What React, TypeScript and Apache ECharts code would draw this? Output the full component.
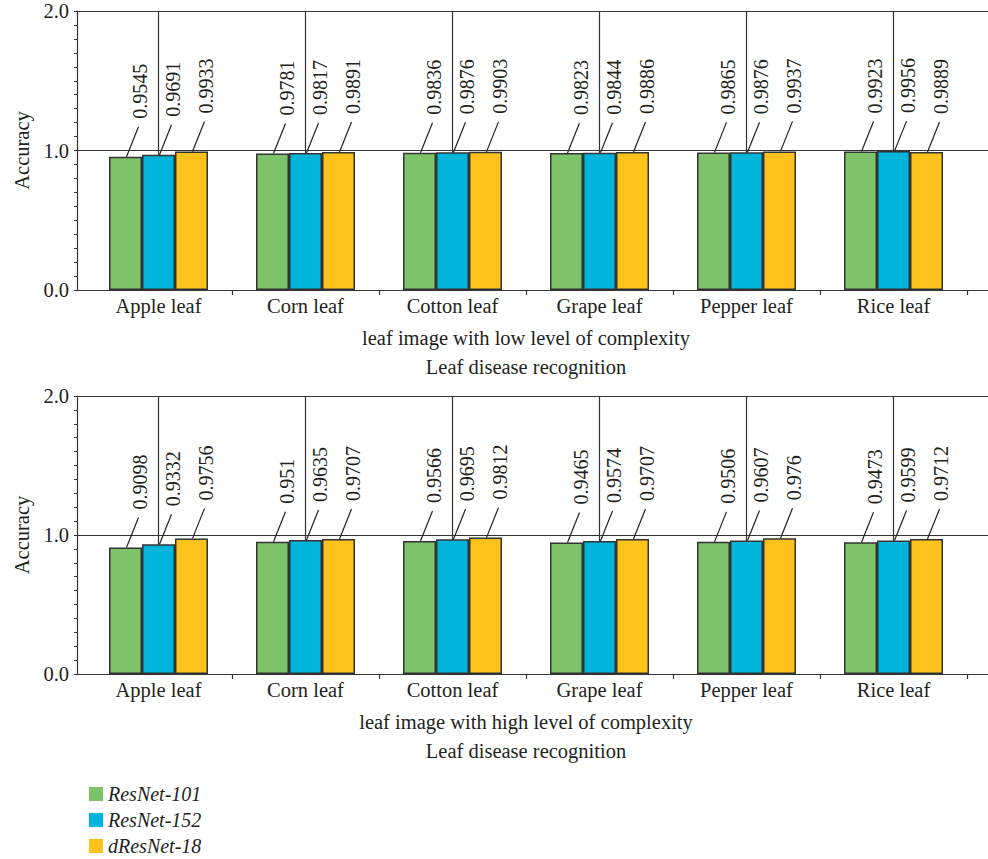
import React, { useEffect, useRef } from "react";
import * as echarts from "echarts";

const categories = ["Apple leaf", "Corn leaf", "Cotton leaf", "Grape leaf", "Pepper leaf", "Rice leaf"];
const models = ["ResNet-101", "ResNet-152", "dResNet-18"];

// leaf image with low level of complexity
const lowResNet101 = [0.9545, 0.9781, 0.9836, 0.9823, 0.9865, 0.9923];
const lowResNet152 = [0.9691, 0.9817, 0.9876, 0.9844, 0.9876, 0.9956];
const lowDResNet18 = [0.9933, 0.9891, 0.9903, 0.9886, 0.9937, 0.9889];

// leaf image with high level of complexity
const highResNet101 = [0.9098, 0.951, 0.9566, 0.9465, 0.9506, 0.9473];
const highResNet152 = [0.9332, 0.9635, 0.9695, 0.9574, 0.9607, 0.9599];
const highDResNet18 = [0.9756, 0.9707, 0.9812, 0.9707, 0.976, 0.9712];

const yMin = 0;
const yMax = 2;
const yInterval = 1;

const panelNames = [
  "leaf image with low level of complexity\nLeaf disease recognition",
  "leaf image with high level of complexity\nLeaf disease recognition",
];

const colors = ["#7dc36a", "#00b5dc", "#fdc31c"];
const FONT = "Liberation Serif";
const TEXT = "#231f20";
const LINE = "#333333";
const BAR_W = 33;

export default function App() {
  const ref = useRef<HTMLDivElement>(null);

  useEffect(() => {
    document.body.style.margin = "0";
    if (!ref.current) return;
    const chart = echarts.init(ref.current, null, { renderer: "svg" });

    const panels = [
      { top: 11, height: 279, data: [lowResNet101, lowResNet152, lowDResNet18] },
      { top: 396, height: 278, data: [highResNet101, highResNet152, highDResNet18] },
    ];

    const grid: any[] = [];
    const xAxis: any[] = [];
    const yAxis: any[] = [];
    const series: any[] = [];

    panels.forEach((p, pi) => {
      const frameIdx = pi * 2;
      const barIdx = pi * 2 + 1;
      grid.push({ left: 77, right: 0, top: p.top, height: p.height });
      grid.push({ left: 85, right: 21, top: p.top, height: p.height });

      xAxis.push({
        gridIndex: frameIdx,
        type: "value",
        min: 0,
        max: 1,
        axisLine: { show: true, onZero: false, lineStyle: { color: LINE, width: 1.2 } },
        axisTick: { show: false },
        axisLabel: { show: false },
        splitLine: { show: false },
      });
      xAxis.push({
        gridIndex: barIdx,
        type: "category",
        data: categories,
        axisLine: { show: false },
        axisTick: {
          show: true,
          length: 5,
          interval: (i: number) => i !== 0,
          lineStyle: { color: LINE, width: 1.2 },
        },
        axisLabel: { interval: 0, margin: 5, fontSize: 20.5, fontFamily: FONT, color: TEXT },
        splitLine: { show: false },
        name: panelNames[pi],
        nameLocation: "middle",
        nameGap: 33,
        nameTextStyle: { fontSize: 20.5, fontFamily: FONT, color: TEXT, lineHeight: 29 },
      });

      yAxis.push({
        gridIndex: frameIdx,
        type: "value",
        min: yMin,
        max: yMax,
        interval: yInterval,
        axisLine: { show: true, onZero: false, lineStyle: { color: LINE, width: 1.2 } },
        axisTick: { show: true, length: 3, lineStyle: { color: LINE, width: 1 } },
        minorTick: { show: true, splitNumber: 10, length: 3, lineStyle: { color: LINE, width: 1 } },
        axisLabel: {
          margin: 8,
          fontSize: 20.5,
          fontFamily: FONT,
          color: TEXT,
          formatter: (v: number) => v.toFixed(1),
        },
        splitLine: { show: true, lineStyle: { color: LINE, width: 1.2 } },
        name: "Accuracy",
        nameLocation: "middle",
        nameGap: 45,
        nameRotate: 90,
        nameTextStyle: { fontSize: 20.5, fontFamily: FONT, color: TEXT },
      });
      yAxis.push({ gridIndex: barIdx, type: "value", min: yMin, max: yMax, interval: yInterval, show: false });

      // vertical lines at category centres (behind bars)
      series.push({
        type: "custom",
        xAxisIndex: barIdx,
        yAxisIndex: barIdx,
        z: 1,
        silent: true,
        data: categories.map((_, i) => [i]),
        renderItem: (params: any, api: any) => {
          const ci = api.value(0);
          const t = api.coord([ci, yMax]);
          const b = api.coord([ci, yMin]);
          return {
            type: "line",
            shape: { x1: t[0], y1: t[1], x2: b[0], y2: b[1] },
            style: { stroke: LINE, lineWidth: 1.2 },
          };
        },
      });

      p.data.forEach((vals, k) => {
        series.push({
          type: "bar",
          name: models[k],
          xAxisIndex: barIdx,
          yAxisIndex: barIdx,
          z: 2,
          data: vals,
          barWidth: BAR_W,
          barGap: "0%",
          itemStyle: { color: colors[k], borderColor: "#333", borderWidth: 1.5 },
        });
        const offset = (k - 1) * BAR_W;
        series.push({
          type: "custom",
          xAxisIndex: barIdx,
          yAxisIndex: barIdx,
          z: 3,
          silent: true,
          data: vals.map((v, i) => [i, v]),
          renderItem: (params: any, api: any) => {
            const ci = api.value(0);
            const v = api.value(1);
            const pt = api.coord([ci, v]);
            const x = pt[0] + offset;
            const y = pt[1];
            return {
              type: "group",
              children: [
                {
                  type: "line",
                  shape: { x1: x + 1, y1: y, x2: x + 13, y2: y - 30 },
                  style: { stroke: "#222", lineWidth: 1.2 },
                },
                {
                  type: "text",
                  x: x + 14,
                  y: y - 38,
                  rotation: Math.PI / 2,
                  style: {
                    text: String(v),
                    align: "left",
                    verticalAlign: "middle",
                    fontSize: 20,
                    fontFamily: FONT,
                    fill: TEXT,
                  },
                },
              ],
            };
          },
        });
      });
    });

    chart.setOption({
      animation: false,
      backgroundColor: "#ffffff",
      grid,
      xAxis,
      yAxis,
      series,
      legend: {
        data: models,
        orient: "vertical",
        left: 89,
        top: 784,
        padding: 0,
        itemWidth: 14,
        itemHeight: 14,
        itemGap: 6,
        icon: "rect",
        selectedMode: false,
        itemStyle: { borderWidth: 0 },
        textStyle: { fontSize: 20, fontFamily: FONT, fontStyle: "italic", color: TEXT },
      },
    });

    return () => chart.dispose();
  }, []);

  return (
    <div
      ref={ref}
      style={{ position: "fixed", left: 0, top: 0, width: 988, height: 859, background: "#fff" }}
    />
  );
}
